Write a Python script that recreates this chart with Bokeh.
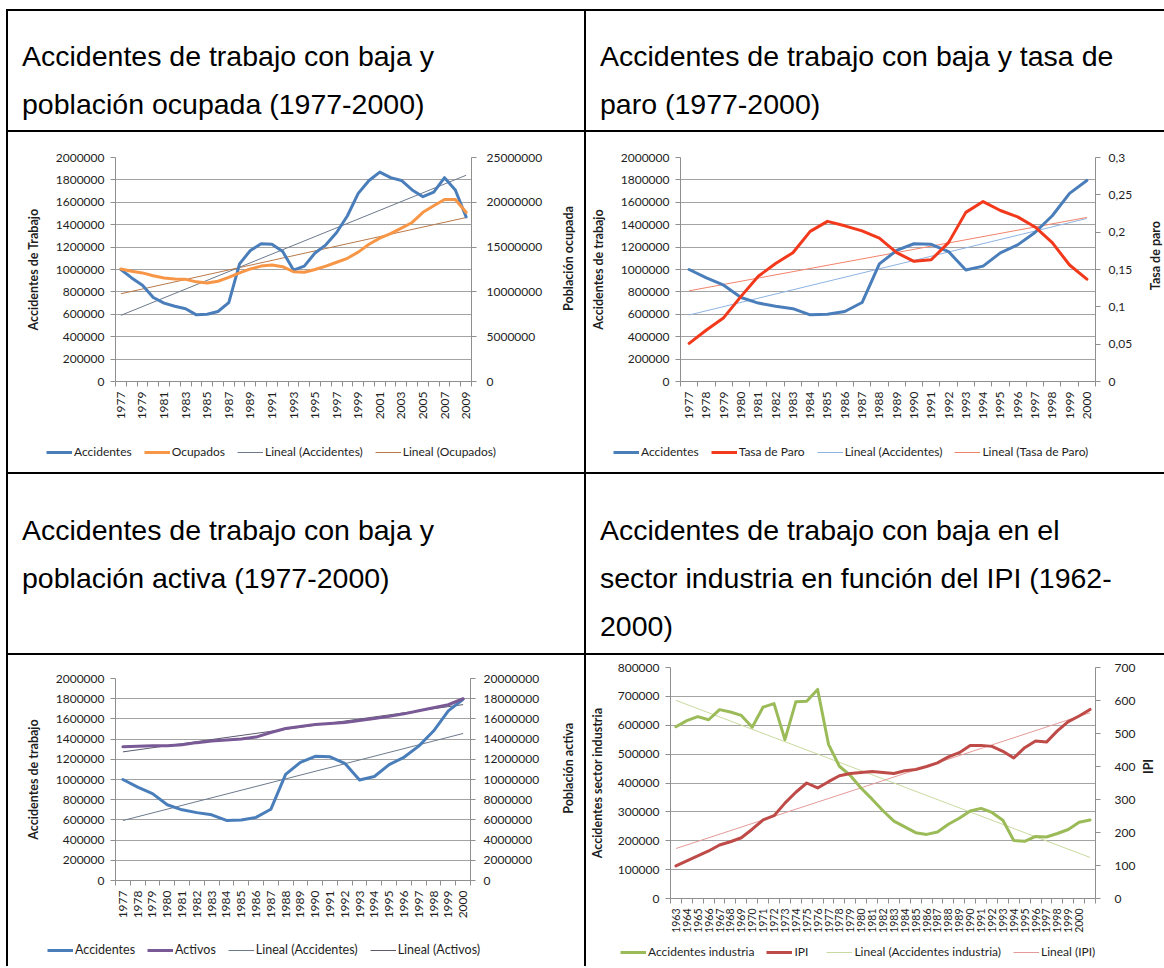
import math
import numpy as np
from bokeh.plotting import figure
from bokeh.models import (Range1d, LinearAxis, FixedTicker, BasicTickFormatter,
                          CustomJSTickFormatter, Legend, LegendItem, Label, Div)
from bokeh.layouts import row, column
from bokeh.embed import file_html
from bokeh.resources import INLINE

FONT = "Lato"
AXIS_GRAY = "#8f8f8f"
GRID_GRAY = "#a3a3a3"
TEXT = "#1e1e1e"

# ---------------- data ----------------
years_a = list(range(1977, 2010))
accidentes = [1000000, 925000, 860000, 750000, 700000, 672000, 650000, 595000, 600000, 625000,
              705000, 1050000, 1170000, 1230000, 1225000, 1160000, 995000, 1030000, 1148000, 1220000,
              1330000, 1480000, 1680000, 1795000, 1870000, 1820000, 1795000, 1710000, 1650000, 1690000,
              1820000, 1710000, 1470000]
ocupados = [12560000, 12310000, 12120000, 11810000, 11560000, 11440000, 11400000, 11120000, 11000000, 11190000,
            11620000, 12120000, 12560000, 12880000, 13000000, 12810000, 12250000, 12190000, 12500000, 12880000,
            13310000, 13750000, 14440000, 15310000, 16000000, 16500000, 17120000, 17750000, 18880000, 19620000,
            20310000, 20310000, 18880000]

years_b = list(range(1977, 2001))
accidentes_b = accidentes[:24]
tasa_paro = [0.051, 0.069, 0.0855, 0.114, 0.141, 0.158, 0.1725, 0.201, 0.2145, 0.2085,
             0.2018, 0.192, 0.1725, 0.161, 0.163, 0.186, 0.2265, 0.241, 0.229, 0.2205,
             0.207, 0.186, 0.156, 0.137]
activos = [13250000, 13300000, 13350000, 13350000, 13450000, 13650000, 13800000, 13900000, 14000000, 14200000,
           14650000, 15050000, 15250000, 15450000, 15550000, 15650000, 15850000, 16050000, 16250000, 16500000,
           16800000, 17100000, 17400000, 18000000]

years_c = list(range(1963, 2002))
year_labels_c = list(range(1963, 2001))
acc_industria = [595000, 616000, 630000, 619000, 654000, 646000, 634000, 593000, 663000, 675000,
                 550000, 681000, 683000, 724000, 534000, 458000, 426000, 382000, 344000, 304000,
                 268000, 248000, 228000, 222000, 230000, 257000, 278000, 303000, 312000, 298000,
                 271000, 201000, 198000, 215000, 213000, 225000, 239000, 264000, 272000]
ipi = [99, 114, 129, 144, 162, 172, 184, 210, 238, 251,
       289, 322, 350, 335, 354, 372, 379, 382, 385, 382,
       379, 387, 391, 400, 411, 429, 442, 464, 464, 461,
       446, 426, 457, 477, 474, 508, 536, 553, 573]

left_ticks_2m = [0, 200000, 400000, 600000, 800000, 1000000, 1200000, 1400000, 1600000, 1800000, 2000000]
right_ticks_25m = [0, 5000000, 10000000, 15000000, 20000000, 25000000]
right_ticks_paro = [0, 0.05, 0.1, 0.15, 0.2, 0.25, 0.3]
right_ticks_20m = [0, 2000000, 4000000, 6000000, 8000000, 10000000, 12000000, 14000000, 16000000, 18000000, 20000000]
left_ticks_800k = [0, 100000, 200000, 300000, 400000, 500000, 600000, 700000, 800000]
right_ticks_700 = [0, 100, 200, 300, 400, 500, 600, 700]

# colours
C_ACC = "#4a7ebb"
C_OCU = "#f79646"
C_PARO = "#f2391c"
C_ACT = "#7a5a96"
C_IND = "#9bbb59"
C_IPI = "#be4b48"
C_T1A = "#6d7a8c"
C_T1B = "#b8794a"
C_T2A = "#8db3e2"
C_T2B = "#f2836b"
C_T3B = "#5a5a6e"
C_T4A = "#c9da9e"
C_T4B = "#e59a9a"


def trend(x, y):
    m, b = np.polyfit(np.array(x, dtype=float), np.array(y, dtype=float), 1)
    return [x[0], x[-1]], [m * x[0] + b, m * x[-1] + b]


def style_y(ax, standoff):
    ax.axis_line_color = AXIS_GRAY
    ax.major_tick_line_color = AXIS_GRAY
    ax.major_tick_out = 5
    ax.major_tick_in = 0
    ax.minor_tick_line_color = None
    ax.major_label_standoff = standoff
    ax.major_label_text_font = FONT
    ax.major_label_text_font_size = "12px"
    ax.major_label_text_color = TEXT


def plain_fig(w, h):
    p = figure(width=w, height=h, output_backend="svg", toolbar_location=None,
               x_range=Range1d(0, w), y_range=Range1d(0, h),
               x_axis_location=None, y_axis_location=None,
               min_border_left=0, min_border_right=0, min_border_top=0, min_border_bottom=0)
    p.outline_line_color = None
    p.xgrid.visible = False
    p.ygrid.visible = False
    p.background_fill_color = "white"
    p.border_fill_color = "white"
    return p


def make_chart(w, h, bl, br, bt, bb, x0, x1, xticks, xsize, y_max, yticks,
               y2_max, y2ticks, y2fmt, left_title, lt_standoff, r_standoff):
    p = figure(width=w, height=h, output_backend="svg", toolbar_location=None,
               x_range=Range1d(x0, x1), y_range=Range1d(0, y_max),
               min_border_left=bl, min_border_right=br, min_border_top=bt, min_border_bottom=bb)
    p.outline_line_color = None
    p.background_fill_color = "white"
    p.border_fill_color = "white"
    p.xgrid.visible = False
    yt = FixedTicker(ticks=yticks)
    p.yaxis.ticker = yt
    p.ygrid.ticker = yt
    p.ygrid.grid_line_color = GRID_GRAY
    p.yaxis.formatter = BasicTickFormatter(use_scientific=False)
    style_y(p.yaxis[0], 6)
    p.yaxis.axis_label = left_title
    p.yaxis.axis_label_text_font = FONT
    p.yaxis.axis_label_text_font_style = "bold"
    p.yaxis.axis_label_text_font_size = "12.5px"
    p.yaxis.axis_label_text_color = TEXT
    p.yaxis.axis_label_standoff = lt_standoff

    bounds = [x0 + k for k in range(int(round(x1 - x0)) + 1)]
    p.xaxis.ticker = FixedTicker(ticks=xticks, minor_ticks=bounds)
    p.xaxis.axis_line_color = AXIS_GRAY
    p.xaxis.major_tick_line_color = None
    p.xaxis.major_tick_out = 0
    p.xaxis.minor_tick_line_color = AXIS_GRAY
    p.xaxis.minor_tick_out = 5
    p.xaxis.minor_tick_in = 0
    p.xaxis.major_label_orientation = math.pi / 2
    p.xaxis.major_label_standoff = 5
    p.xaxis.major_label_text_font = FONT
    p.xaxis.major_label_text_font_size = xsize
    p.xaxis.major_label_text_color = TEXT

    p.extra_y_ranges = {"r": Range1d(0, y2_max)}
    ax2 = LinearAxis(y_range_name="r", ticker=FixedTicker(ticks=y2ticks), formatter=y2fmt)
    style_y(ax2, r_standoff)
    p.add_layout(ax2, "right")
    return p


def title_fig(w, h, text, x, y):
    p = plain_fig(w, h)
    p.add_layout(Label(x=x, y=y, angle=math.pi / 2, text=text, text_align="center",
                       text_baseline="middle", text_font=FONT, text_font_style="bold",
                       text_font_size="12.5px", text_color=TEXT))
    return p


def legend_fig(w, h, specs, lx, ly, size="12px"):
    # legend proxies reuse each series' own data; those values lie far outside this
    # small figure's ranges, so only the legend swatches are visible
    p = plain_fig(w, h)
    items = []
    for label, xs, ys, color, lw in specs:
        r = p.line(x=xs, y=ys, line_color=color, line_width=lw)
        items.append(LegendItem(label=label, renderers=[r]))
    leg = Legend(items=items, location=(lx, ly), orientation="horizontal", glyph_width=26,
                 glyph_height=14, label_height=14, label_standoff=2, spacing=12, padding=0, margin=0,
                 border_line_color=None, background_fill_alpha=0,
                 label_text_font=FONT, label_text_font_size=size, label_text_color=TEXT)
    p.add_layout(leg)
    return p


# ---------------- chart 1 ----------------
f1 = make_chart(544, 306, 107, 81, 25, 57, 1976.5, 2009.5, list(range(1977, 2010, 2)), "12px",
                2000000, left_ticks_2m, 25000000, right_ticks_25m, BasicTickFormatter(use_scientific=False),
                "Accidentes de Trabajo", 12, 10)
tr1a = trend(years_a, accidentes)
f1.line(*tr1a, line_color=C_T1A, line_width=1)
tr1b = trend(years_a, ocupados)
f1.line(*tr1b, line_color=C_T1B, line_width=1, y_range_name="r")
f1.line(years_a, accidentes, line_color=C_ACC, line_width=3, line_join="round", line_cap="round")
f1.line(years_a, ocupados, line_color=C_OCU, line_width=3, line_join="round", line_cap="round",
        y_range_name="r")
t1 = title_fig(32, 306, "Población ocupada", 16, 168)
l1 = legend_fig(576, 34, [("Accidentes", years_a, accidentes, C_ACC, 3),
                          ("Ocupados", years_a, ocupados, C_OCU, 3),
                          ("Lineal (Accidentes)", tr1a[0], tr1a[1], C_T1A, 1),
                          ("Lineal (Ocupados)", tr1b[0], tr1b[1], C_T1B, 1)], 38, 13)
cell1 = column(row(f1, t1), l1)

# ---------------- chart 2 ----------------
paro_fmt = CustomJSTickFormatter(code="if (tick == 0) { return '0'; } "
                                      "return (Math.round(tick * 100) / 100).toString().replace('.', ',');")
f2 = make_chart(554, 306, 94, 45, 25, 57, 1976.5, 2000.5, years_b, "12px",
                2000000, left_ticks_2m, 0.3, right_ticks_paro, paro_fmt,
                "Accidentes de trabajo", 12, 8)
tr2a = trend(years_b, accidentes_b)
f2.line(*tr2a, line_color=C_T2A, line_width=1)
tr2b = trend(years_b, tasa_paro)
f2.line(*tr2b, line_color=C_T2B, line_width=1, y_range_name="r")
f2.line(years_b, accidentes_b, line_color=C_ACC, line_width=3, line_join="round", line_cap="round")
f2.line(years_b, tasa_paro, line_color=C_PARO, line_width=3, line_join="round", line_cap="round",
        y_range_name="r")
t2 = title_fig(24, 306, "Tasa de paro", 15, 172)
l2 = legend_fig(578, 34, [("Accidentes", years_b, accidentes_b, C_ACC, 3),
                          ("Tasa de Paro", years_b, tasa_paro, C_PARO, 3),
                          ("Lineal (Accidentes)", tr2a[0], tr2a[1], C_T2A, 1),
                          ("Lineal (Tasa de Paro)", tr2b[0], tr2b[1], C_T2B, 1)], 27, 13)
cell2 = column(row(f2, t2), l2)

# ---------------- chart 3 ----------------
f3 = make_chart(544, 281, 107, 82, 23, 56, 1976.5, 2000.5, years_b, "12px",
                2000000, left_ticks_2m, 20000000, right_ticks_20m, BasicTickFormatter(use_scientific=False),
                "Accidentes de trabajo", 12, 8)
tr3a = trend(years_b, accidentes_b)
f3.line(*tr3a, line_color=C_T1A, line_width=1)
tr3b = trend(years_b, activos)
f3.line(*tr3b, line_color=C_T3B, line_width=1, y_range_name="r")
f3.line(years_b, accidentes_b, line_color=C_ACC, line_width=3, line_join="round", line_cap="round")
f3.line(years_b, activos, line_color=C_ACT, line_width=3, line_join="round", line_cap="round",
        y_range_name="r")
t3 = title_fig(32, 281, "Población activa", 16, 156)
l3 = legend_fig(576, 30, [("Accidentes", years_b, accidentes_b, C_ACC, 3),
                          ("Activos", years_b, activos, C_ACT, 3),
                          ("Lineal (Accidentes)", tr3a[0], tr3a[1], C_T1A, 1),
                          ("Lineal (Activos)", tr3b[0], tr3b[1], C_T3B, 1)], 39, 9, "12.5px")
cell3 = column(row(f3, t3), l3)

# ---------------- chart 4 ----------------
f4 = make_chart(554, 287, 81, 45, 12, 44, 1962.5, 2001.5, year_labels_c, "10.5px",
                800000, left_ticks_800k, 700, right_ticks_700, BasicTickFormatter(use_scientific=False),
                "Accidentes sector industria", 10, 14)
tr4a = trend(years_c, acc_industria)
f4.line(*tr4a, line_color=C_T4A, line_width=1)
tr4b = trend(years_c, ipi)
f4.line(*tr4b, line_color=C_T4B, line_width=1, y_range_name="r")
f4.line(years_c, acc_industria, line_color=C_IND, line_width=3, line_join="round", line_cap="round")
f4.line(years_c, ipi, line_color=C_IPI, line_width=3, line_join="round", line_cap="round",
        y_range_name="r")
t4 = title_fig(24, 287, "IPI", 8, 164)
l4 = legend_fig(578, 24, [("Accidentes industria", years_c, acc_industria, C_IND, 3),
                          ("IPI", years_c, [v * 10000 for v in ipi], C_IPI, 3),
                          ("Lineal (Accidentes industria)", tr4a[0], tr4a[1], C_T4A, 1),
                          ("Lineal (IPI)", tr4b[0], [v * 10000 for v in tr4b[1]], C_T4B, 1)], 34, 7)
cell4 = column(row(f4, t4), l4)


# ---------------- table ----------------
def bar(w, h):
    return Div(text="", width=w, height=h, margin=0, styles={"background-color": "black"})


def title_div(html, w, h, pad_top, pad_left):
    inner = ('<div style="font-family:\'Liberation Sans\',Arial,sans-serif;font-size:28.5px;'
             'line-height:48px;color:#000;padding-top:%dpx;padding-left:%dpx;white-space:nowrap;">%s</div>'
             % (pad_top, pad_left, html))
    return Div(text=inner, width=w, height=h, margin=0,
               styles={"background-color": "white", "overflow": "hidden"})


d1 = title_div("Accidentes de trabajo con baja y<br>población ocupada (1977-2000)", 576, 119, 21, 14)
d2 = title_div("Accidentes de trabajo con baja y tasa de<br>paro (1977-2000)", 578, 119, 21, 14)
d3 = title_div("Accidentes de trabajo con baja y<br>población activa (1977-2000)", 576, 179, 32, 14)
d4 = title_div("Accidentes de trabajo con baja en el<br>sector industria en función del IPI (1962-<br>2000)",
               578, 179, 32, 14)

layout = column(
    bar(1158, 2),
    row(bar(2, 119), d1, bar(2, 119), d2),
    bar(1158, 2),
    row(bar(2, 340), cell1, bar(2, 340), cell2),
    bar(1158, 2),
    row(bar(2, 179), d3, bar(2, 179), d4),
    bar(1158, 2),
    row(bar(2, 311), cell3, bar(2, 311), cell4),
    margin=(9, 0, 0, 6),
)

open("out.html", "w").write(file_html(layout, INLINE))
